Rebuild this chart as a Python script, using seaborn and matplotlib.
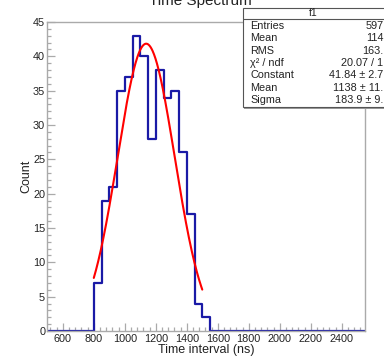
import numpy as np
import pandas as pd
import seaborn as sns
import matplotlib.pyplot as plt
from matplotlib.patches import Rectangle
from matplotlib.lines import Line2D

# histogram, 50 ns bins from 500 to 2550 (only 800-1550 filled)
bin_lo = [500, 550, 600, 650, 700, 750,
          800, 850, 900, 950, 1000, 1050, 1100, 1150, 1200, 1250, 1300, 1350, 1400, 1450, 1500,
          1550, 1600, 1650, 1700, 1750, 1800, 1850, 1900, 1950, 2000, 2050, 2100, 2150, 2200,
          2250, 2300, 2350, 2400, 2450, 2500]
counts = [0, 0, 0, 0, 0, 0,
          7, 19, 21, 35, 37, 43, 40, 28, 38, 34, 35, 26, 17, 4, 2,
          0, 0, 0, 0, 0, 0, 0, 0, 0, 0, 0, 0, 0, 0,
          0, 0, 0, 0, 0, 0]
bin_width = 50

# gaussian fit parameters (from the stats box)
fit_const = 41.84
fit_mean = 1138
fit_sigma = 183.9
fit_range = (800, 1500)

stat_names = ["Entries", "Mean", "RMS", "\u03c7\u00b2 / ndf", "Constant", "Mean", "Sigma"]
stat_values = ["597", "114", "163.", "20.07 / 1", "41.84 \u00b1 2.7", "1138 \u00b1 11.", "183.9 \u00b1 9."]

W, H = 384, 358

sns.set_style("ticks")
plt.rcParams['font.family'] = ['Liberation Sans', 'DejaVu Sans']

fig = plt.figure(figsize=(W / 100, H / 100), dpi=100)
ax = fig.add_axes([47.3 / W, 1 - 331 / H, (365 - 47.3) / W, (331 - 22) / H])

df = pd.DataFrame({"t": np.array(bin_lo) + bin_width / 2, "n": counts})
edges = list(bin_lo) + [bin_lo[-1] + bin_width]
sns.histplot(data=df, x="t", weights="n", bins=edges, element="step", fill=False,
             color="#1a1aa6", linewidth=1.6, ax=ax)

xf = np.linspace(fit_range[0], fit_range[1], 300)
yf = fit_const * np.exp(-0.5 * ((xf - fit_mean) / fit_sigma) ** 2)
sns.lineplot(x=xf, y=yf, color="red", linewidth=1.5, ax=ax)

ax.set_xlim(500, 2550)
ax.set_ylim(0, 45)
ax.set_xticks(range(600, 2401, 200))
ax.set_xticks(range(520, 2550, 40), minor=True)
ax.set_yticks(range(0, 46, 5))
ax.set_yticks(range(0, 46, 1), minor=True)

grey = "#aaaaaa"
for s in ax.spines.values():
    s.set_color(grey)
    s.set_linewidth(1.0)
ax.tick_params(which="both", direction="in", color=grey, labelcolor="#222222", labelsize=7.8)
ax.tick_params(which="major", length=6, width=0.9)
ax.tick_params(which="minor", length=3, width=0.9)
ax.tick_params(axis="y", pad=1.5)
ax.tick_params(axis="x", pad=2.5)

ax.set_xlabel("Time interval (ns)", fontsize=9, color="#222222", labelpad=0)
ax.set_ylabel("Count", fontsize=9, color="#222222", labelpad=0.5)

# title sits mostly above the canvas, as in the reference
fig.text(200 / W, 1 - 5 / H, "Time Spectrum", fontsize=11, ha="center", va="baseline",
         color="#222222")

# stats box
def fx(px):
    return px / W

def fy(py):
    return 1 - py / H

box_l, box_t, box_b = 242.7, 8.3, 107
fig.add_artist(Rectangle((fx(box_l + 1.5), fy(box_b + 1.5)), fx(W - box_l), fy(box_t) - fy(box_b),
                         transform=fig.transFigure, facecolor="#9a9a9a", edgecolor="none", zorder=10))
fig.add_artist(Rectangle((fx(box_l), fy(box_b)), fx(W + 5 - box_l), fy(box_t) - fy(box_b),
                         transform=fig.transFigure, facecolor="white", edgecolor="#555555",
                         linewidth=0.8, zorder=11))
fig.add_artist(Line2D([fx(box_l), 1], [fy(18.5), fy(18.5)], transform=fig.transFigure,
                      color="#555555", linewidth=0.8, zorder=12))
fig.text(fx(313), fy(13.5), "f1", fontsize=7.5, ha="center", va="center", color="#222222", zorder=13)
for i, (nm, val) in enumerate(zip(stat_names, stat_values)):
    y = fy(26 + i * 12.35)
    fig.text(fx(250.5), y, nm, fontsize=7.8, ha="left", va="center", color="#222222", zorder=13)
    fig.text(fx(383.5), y, val, fontsize=7.8, ha="right", va="center", color="#222222", zorder=13)

fig.savefig("out.png", dpi=100)
